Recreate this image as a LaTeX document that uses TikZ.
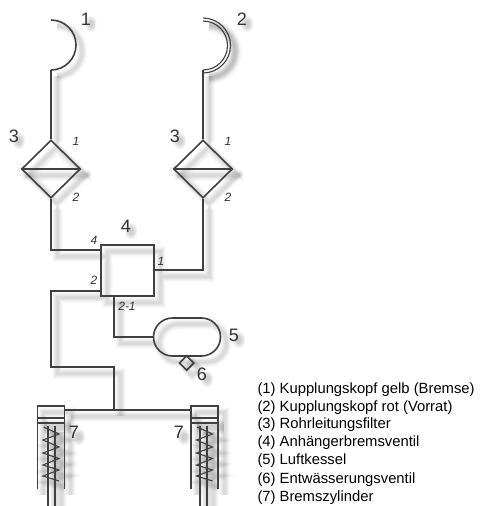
\documentclass[tikz,border=0pt]{standalone}
\usepackage{fontspec}
\setmainfont{Liberation Sans}
\usetikzlibrary{shapes.geometric,shapes.misc}
\definecolor{lineC}{HTML}{404040}
\definecolor{textC}{HTML}{333333}
\tikzset{
  ln/.style={draw=lineC,line width=1.6pt,line join=miter},
  thin ln/.style={draw=lineC,line width=1.1pt},
  filterbox/.style={ln,shape=diamond,aspect=1,inner sep=0pt,minimum width=59pt,minimum height=58pt},
  valvebox/.style={ln,rectangle,inner sep=0pt,minimum width=53pt,minimum height=51pt},
  tankbox/.style={ln,rounded rectangle,inner sep=0pt,minimum width=67pt,minimum height=38pt},
  drainbox/.style={ln,shape=diamond,aspect=1,inner sep=0pt,minimum width=15pt,minimum height=15pt},
  big/.style={text=textC,inner sep=0pt,font=\fontsize{18}{20}\selectfont},
  port/.style={text=textC,inner sep=0pt,font=\fontsize{12}{14}\selectfont\itshape},
  legend/.style={text=black,inner sep=0pt,anchor=west,font=\fontsize{14.8}{16}\selectfont}
}
\newcommand{\cylinder}[2]{% left x, rod left x
  \draw[ln] (#1,489) -- (#1,406) -- (#1+27,406) -- (#1+27,489);
  \draw[thin ln] (#1,418) -- (#1+27,418);
  \draw[thin ln] (#1,423) -- (#1+27,423);
  \draw[thin ln] (#2,426) -- (#2,506);
  \draw[thin ln] (#2+7,426) -- (#2+7,506);
  \draw[thin ln] (#1+6,427) -- (#1+21.5,434) -- (#1+5.5,440) -- (#1+21.5,447) -- (#1+5.5,453) -- (#1+21.5,458.5) -- (#1+5.5,465) -- (#1+21.5,470) -- (#1+5.5,476) -- (#1+21.5,481);
}
\newcommand{\lines}{%
  % couplings
  \coordinate (h1) at (51,70);
  \coordinate (h2) at (203,70);
  \draw[ln] (51,20) arc[start angle=-90,end angle=90,radius=25];
  \draw[thin ln] (203,21) arc[start angle=-90,end angle=90,radius=24.5];
  \draw[thin ln] (203,18) arc[start angle=-90,end angle=90,radius=27.5];
  % filters
  \node[filterbox] (f1) at (51,169) {};
  \node[filterbox] (f2) at (203,169) {};
  \draw[ln] (f1.west) -- (f1.east);
  \draw[ln] (f2.west) -- (f2.east);
  % valve, tank, drain
  \node[valvebox] (v) at (127.5,270.5) {};
  \node[tankbox] (t) at (187,337) {};
  \node[drainbox] (d) at (186.7,363) {};
  % connectors
  \coordinate (vb) at (114,296);
  \coordinate (tee) at (114,410);
  \draw[ln] (h1) -- (f1.north);
  \draw[ln] (h2) -- (f2.north);
  \draw[ln] (f1.south) |- (v.west|-0,250);
  \draw[ln] (f2.south) |- (v.east|-0,270);
  \draw[ln] (vb) |- (t.west);
  \draw[ln] (v.west|-0,291) -| (51,367) -| (tee);
  \draw[ln] (64.5,410) -- (191,410);
  % cylinders
  \cylinder{37.5}{48}
  \cylinder{191}{200}
}
\newcommand{\labels}{%
  \node[big] (n1) at (86,19) {1};
  \node[big] (n2) at (242,19) {2};
  \node[big] (n3a) at (14,136) {3};
  \node[big] (n3b) at (175,136) {3};
  \node[big] (n4) at (126,226) {4};
  \node[big] (n5) at (234,335) {5};
  \node[big] (n6) at (202,374) {6};
  \node[big] (n7a) at (74,432) {7};
  \node[big] (n7b) at (179,432) {7};
  \node[port] (p1a) at (76,141) {1};
  \node[port] (p2a) at (76,197) {2};
  \node[port] (p1b) at (228,141) {1};
  \node[port] (p2b) at (228,197) {2};
  \node[port] (p4) at (94,240) {4};
  \node[port] (p1c) at (161,261) {1};
  \node[port] (p2c) at (94,280) {2};
  \node[port] (p21) at (127,306) {2-1};
}
% soft blob standing in for the blurred shadow of a label
\newcommand{\blob}[3]{%
  \foreach \r in {3,4,5,6,7}{
    \fill[black,opacity=0.04] (#1+5,#2+5) ellipse[x radius=\r*#3,y radius=\r*1.2];
  }
}
\begin{document}
\begin{tikzpicture}[x=1pt,y=-1pt]
\useasboundingbox (0,0) rectangle (480,506);
\fill[white] (0,0) rectangle (480,506);
% soft drop shadow
\foreach \w/\o in {11/0.02,9/0.025,7/0.03,5/0.035,3/0.04}{
  \begin{scope}[transform canvas={shift={(6,6)}},opacity=\o,
    ln/.style={draw=black,line width=\w pt},
    thin ln/.style={draw=black,line width=\w pt}]
    \lines
  \end{scope}
}
\blob{86}{19}{0.8}\blob{242}{19}{0.9}\blob{14}{136}{0.9}\blob{175}{136}{0.9}
\blob{126}{226}{0.9}\blob{234}{335}{0.9}\blob{202}{374}{0.9}\blob{74}{432}{0.9}\blob{179}{432}{0.9}
\lines
\labels
\node[legend] (l1) at (257.3,389.3) {(1) Kupplungskopf gelb (Bremse)};
\node[legend] (l2) at (257.3,407.3) {(2) Kupplungskopf rot (Vorrat)};
\node[legend] (l3) at (257.3,425) {(3) Rohrleitungsfilter};
\node[legend] (l4) at (257.3,442.7) {(4) Anhängerbremsventil};
\node[legend] (l5) at (257.3,460.7) {(5) Luftkessel};
\node[legend] (l6) at (257.3,479.3) {(6) Entwässerungsventil};
\node[legend] (l7) at (257.3,497.3) {(7) Bremszylinder};
\end{tikzpicture}
\end{document}
